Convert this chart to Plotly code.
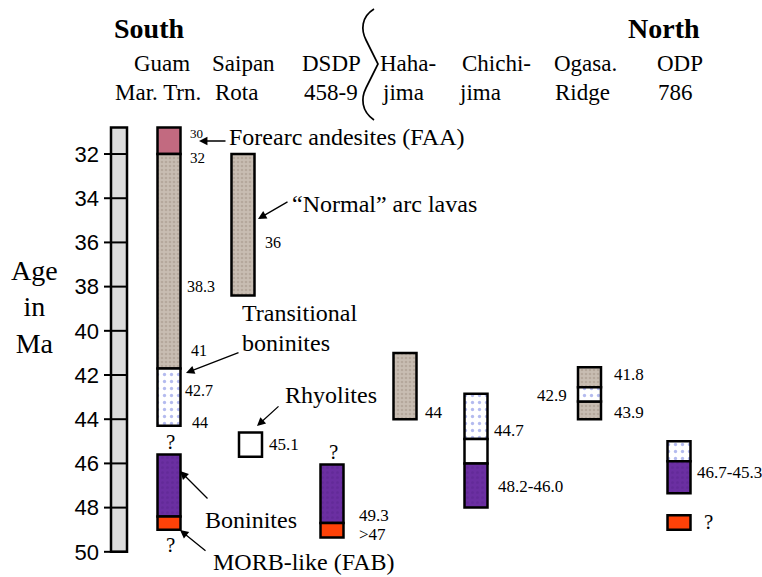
import plotly.graph_objects as go

# ---------------- data ----------------
sites = ["Guam Mar. Trn.", "Saipan Rota", "Rhyolite (Saipan)", "DSDP 458-9", "Haha-jima",
         "Chichi-jima", "Ogasa. Ridge", "ODP 786"]

# lithology intervals: (site, top age Ma, bottom age Ma)
faa_sites = ["Guam Mar. Trn."]
faa_top = [30.8]
faa_bot = [32.0]

normal_sites = ["Guam Mar. Trn.", "Saipan Rota", "Haha-jima", "Ogasa. Ridge", "Ogasa. Ridge"]
normal_top = [32.0, 32.0, 41.0, 41.65, 43.2]
normal_bot = [41.7, 38.4, 44.0, 42.55, 44.0]

trans_sites = ["Guam Mar. Trn.", "Chichi-jima", "Ogasa. Ridge", "ODP 786"]
trans_top = [41.7, 42.85, 42.55, 45.0]
trans_bot = [44.3, 44.9, 43.2, 45.9]

rhyo_sites = ["Rhyolite (Saipan)", "Chichi-jima"]
rhyo_top = [44.6, 44.9]
rhyo_bot = [45.7, 46.0]

bon_sites = ["Guam Mar. Trn.", "DSDP 458-9", "Chichi-jima", "ODP 786"]
bon_top = [45.6, 46.05, 46.0, 45.9]
bon_bot = [48.4, 48.7, 48.0, 47.35]

morb_sites = ["Guam Mar. Trn.", "DSDP 458-9", "ODP 786"]
morb_top = [48.4, 48.7, 48.35]
morb_bot = [49.0, 49.35, 49.0]

age_ticks = [32, 34, 36, 38, 40, 42, 44, 46, 48, 50]
age_axis_top = 30.8
age_axis_bot = 50.0

# ---------------- layout helpers (positions only) ----------------
W, H = 762, 577
site_x = {"Guam Mar. Trn.": 169, "Saipan Rota": 243, "Rhyolite (Saipan)": 250.5,
          "DSDP 458-9": 332, "Haha-jima": 405, "Chichi-jima": 476,
          "Ogasa. Ridge": 589.5, "ODP 786": 679}
Y0, Y1 = 51.14, 25.03  # age range mapped to full height (reversed)


def py(p):
    """pixel row -> age coordinate (for text placement)"""
    return Y1 + (Y0 - Y1) * p / H


SERIF = "Liberation Serif"
SANS = "Liberation Sans"

fig = go.Figure()


def add_unit(name, s, top, bot, color, pattern=None):
    fig.add_trace(go.Bar(
        name=name,
        x=[site_x[k] for k in s],
        base=top,
        y=[b - t for t, b in zip(top, bot)],
        width=23,
        marker=dict(color=color, line=dict(color="black", width=2.5),
                    pattern=pattern),
        showlegend=False,
        hoverinfo="name+y",
    ))


add_unit("Forearc andesites (FAA)", faa_sites, faa_top, faa_bot, "#c26a80")
add_unit('"Normal" arc lavas', normal_sites, normal_top, normal_bot, "#c8bdb2",
         dict(shape=".", fgcolor="#a29486", bgcolor="#c8bdb2", size=4, solidity=0.35))
add_unit("Transitional boninites", trans_sites, trans_top, trans_bot, "white",
         dict(shape=".", fgcolor="#6a78e0", bgcolor="white", size=7, solidity=0.18))
add_unit("Rhyolites", rhyo_sites, rhyo_top, rhyo_bot, "white")
add_unit("Boninites", bon_sites, bon_top, bon_bot, "#6b2fa2",
         dict(shape=".", fgcolor="#5c2690", bgcolor="#6b2fa2", size=5, solidity=0.3))
add_unit("MORB-like (FAB)", morb_sites, morb_top, morb_bot, "#ff4208")

shapes = [
    # grey age bar
    dict(type="rect", xref="x", yref="y", x0=111, x1=127, y0=age_axis_top, y1=age_axis_bot,
         fillcolor="#dcdcdc", line=dict(color="black", width=2.5), layer="below"),
    # wavy brace in header
    dict(type="path", xref="x", yref="y",
         path=(f"M 374,{py(9)} C 361,{py(17)} 361,{py(30)} 366,{py(40)} "
               f"L 378,{py(64)} L 366,{py(88)} C 361,{py(98)} 361,{py(111)} 374,{py(120)}"),
         line=dict(color="black", width=1.7)),
]
# tick marks crossing the grey age bar
for t in age_ticks:
    shapes.append(dict(type="line", xref="x", yref="y", x0=104, x1=127, y0=t, y1=t,
                       line=dict(color="black", width=2), layer="above"))

ann = []


def txt(x, p, s, size=17, anchor="left", bold=False, family=SERIF):
    ann.append(dict(x=x, y=py(p), xref="x", yref="y", text=(f"<b>{s}</b>" if bold else s),
                    showarrow=False, xanchor=anchor, yanchor="middle",
                    font=dict(family=family, size=size, color="black")))


def arrow(tx, tp, hx, hp):
    ann.append(dict(x=hx, y=py(hp), ax=tx, ay=py(tp), xref="x", yref="y", axref="x", ayref="y",
                    text="", showarrow=True, arrowhead=2, arrowsize=1.3, arrowwidth=1.3,
                    arrowcolor="black", standoff=0, startstandoff=0))


# headers
txt(112, 28, "South", 28, bold=True)
txt(626, 28, "North", 28, bold=True)
head1 = [(132, "Guam"), (210, "Saipan"), (300, "DSDP"), (378, "Haha-"), (460, "Chichi-"),
         (552, "Ogasa."), (655, "ODP")]
head2 = [(113, "Mar. Trn."), (213, "Rota"), (302, "458-9"), (380, "jima"), (457, "jima"),
         (553, "Ridge"), (656, "786")]
for x, s in head1:
    txt(x, 63, s, 23)
for x, s in head2:
    txt(x, 92, s, 23)

# y axis title
ann.append(dict(x=34, y=py(307), xref="x", yref="y", text="Age<br>in<br>Ma", showarrow=False,
                xanchor="center", yanchor="middle", align="center",
                font=dict(family=SERIF, size=28, color="black")))

# age labels beside columns
txt(188, 133, "30", 13)
txt(188, 158, "32", 15)
txt(185, 286, "38.3", 16)
txt(189, 350, "41", 16)
txt(183, 390, "42.7", 16)
txt(190, 422, "44", 16)
txt(170, 442, "?", 21, anchor="center")
txt(170, 545, "?", 21, anchor="center")
txt(263, 242, "36", 16)
txt(267, 444, "45.1", 17)
txt(333, 452, "?", 21, anchor="center")
txt(357, 515, "49.3", 17)
txt(357, 534, "&gt;47", 17)
txt(423, 412, "44", 17)
txt(492, 430, "44.7", 17)
txt(496, 486, "48.2-46.0", 17)
txt(569, 395, "42.9", 17, anchor="right")
txt(612, 374, "41.8", 17)
txt(612, 412, "43.9", 17)
txt(695, 472, "46.7-45.3", 17)
txt(702, 522, "?", 21)

# unit labels
txt(227, 137, "Forearc andesites (FAA)", 24)
txt(290, 204, "\u201cNormal\u201d arc lavas", 24)
txt(240, 313, "Transitional", 24)
txt(240, 343, "boninites", 24)
txt(283, 395, "Rhyolites", 24)
txt(203, 520, "Boninites", 24)
txt(211, 562, "MORB-like (FAB)", 24)

# arrows (tail -> head)
arrow(227, 141, 199, 141)
arrow(289, 201, 258, 219)
arrow(240, 352, 186, 373)
arrow(280, 405, 257, 426)
arrow(209, 500, 180, 471)
arrow(207, 552, 180, 530)

fig.update_layout(
    width=W, height=H,
    margin=dict(l=0, r=0, t=0, b=0),
    paper_bgcolor="white", plot_bgcolor="white",
    barmode="overlay",
    xaxis=dict(range=[0, W], visible=False, fixedrange=True),
    yaxis=dict(range=[Y0, Y1], tickvals=age_ticks, ticks="", showgrid=False, zeroline=False,
               showline=False, anchor="free", position=105 / W, ticklabelstandoff=6,
               tickfont=dict(family=SANS, size=22, color="black")),
    shapes=shapes,
    annotations=ann,
)

fig.write_html("out.html", config={"displayModeBar": False},
               post_script="document.body.style.margin='0px';document.body.style.overflow='hidden';")
